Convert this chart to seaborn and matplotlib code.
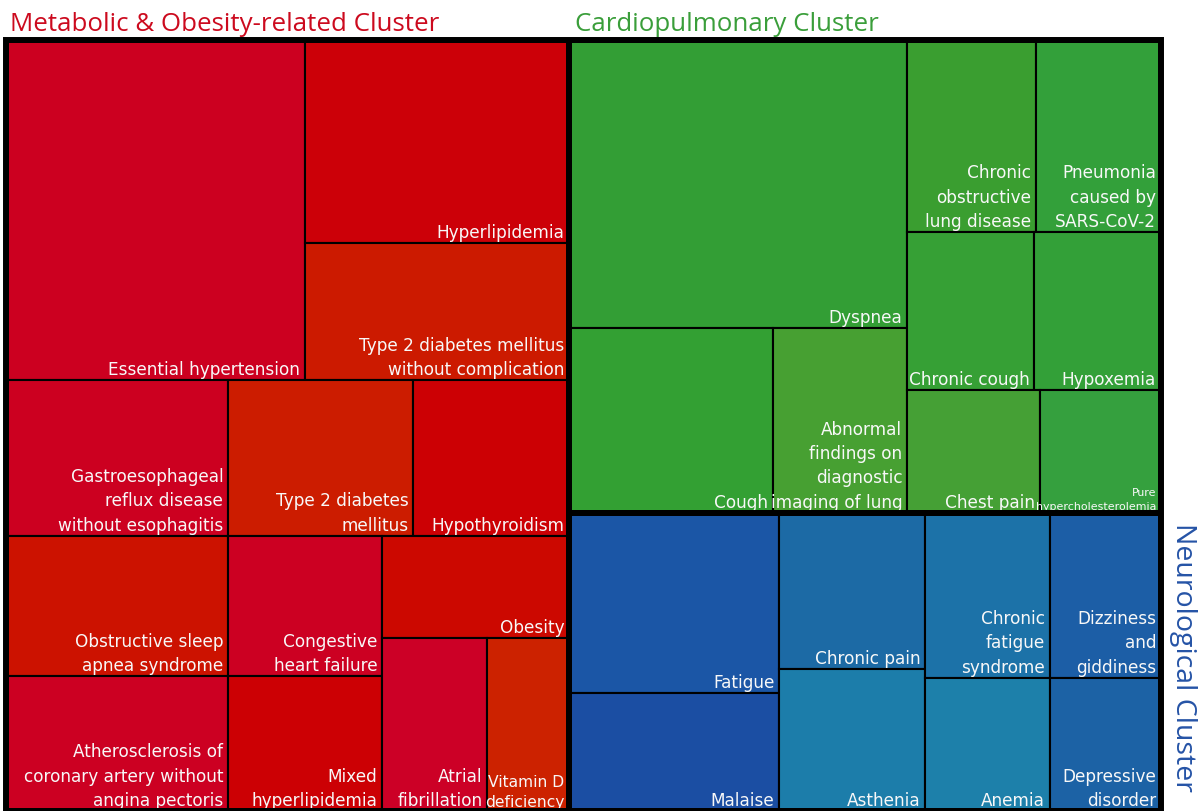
import matplotlib
matplotlib.use("Agg")
import matplotlib.pyplot as plt
from matplotlib.patches import Rectangle
import seaborn as sns

# cluster names / colours
clusters = ["Metabolic & Obesity-related Cluster", "Cardiopulmonary Cluster", "Neurological Cluster"]
cluster_colors = ["#cc0a1e", "#3a9e3a", "#2553a6"]

# Metabolic & Obesity-related
metabolic_labels = ["Essential hypertension", "Hyperlipidemia",
                    "Type 2 diabetes mellitus\nwithout complication",
                    "Gastroesophageal\nreflux disease\nwithout esophagitis",
                    "Obstructive sleep\napnea syndrome",
                    "Atherosclerosis of\ncoronary artery without\nangina pectoris",
                    "Type 2 diabetes\nmellitus", "Hypothyroidism",
                    "Congestive\nheart failure", "Mixed\nhyperlipidemia",
                    "Obesity", "Atrial\nfibrillation", "Vitamin D\ndeficiency"]
metabolic_values = [1017, 538, 363, 346, 312, 301, 287, 242, 216, 208, 191, 182, 142]
metabolic_colors = ["#cc0020", "#cc0008", "#cc1a00", "#cc0020", "#cc1200", "#cc0022",
                    "#cc1c00", "#cc0004", "#cc0022", "#cc0004", "#cc0800", "#cc0026", "#cc2200"]

# Cardiopulmonary
cardio_labels = ["Dyspnea", "Cough", "Abnormal\nfindings on\ndiagnostic\nimaging of lung",
                 "Chronic\nobstructive\nlung disease", "Pneumonia\ncaused by\nSARS-CoV-2",
                 "Chronic cough", "Hypoxemia", "Chest pain", "Pure\nhypercholesterolemia"]
cardio_values = [973, 374, 248, 247, 240, 201, 200, 162, 148]
cardio_colors = ["#339e35", "#33a033", "#47a032", "#3a9e30", "#33a03a",
                 "#36a035", "#33a038", "#45a035", "#35a03e"]

# Neurological
neuro_labels = ["Fatigue", "Malaise", "Chronic pain", "Asthenia",
                "Chronic\nfatigue\nsyndrome", "Dizziness\nand\ngiddiness",
                "Anemia", "Depressive\ndisorder"]
neuro_values = [378, 248, 228, 207, 206, 183, 166, 148]
neuro_colors = ["#1b56a6", "#1b4ea3", "#1c6aa5", "#1c7daa",
                "#1c72a8", "#1c5ea6", "#1d80aa", "#1c62a5"]

groups = [
    (metabolic_labels, metabolic_values, metabolic_colors),
    (cardio_labels, cardio_values, cardio_colors),
    (neuro_labels, neuro_values, neuro_colors),
]


# pivot-by-size treemap layout (ordered, largest item is the pivot)
def pivot_layout(values, x, y, w, h):
    n = len(values)
    if n == 0:
        return []
    if n == 1:
        return [(x, y, w, h)]
    total = sum(values)
    p = values[0]
    rest = values[1:]
    best_k, best_r = 0, None
    for k in range(len(rest) + 1):
        s = p + sum(rest[:k])
        if w >= h:
            a, b = w * s / total, h * p / s
        else:
            a, b = w * p / s, h * s / total
        r = max(a / b, b / a)
        if best_r is None or r < best_r:
            best_k, best_r = k, r
    k = best_k
    s = p + sum(rest[:k])
    if w >= h:
        cw = w * s / total
        ph = h * p / s
        rects = [(x, y, cw, ph)]
        rects += pivot_layout(rest[:k], x, y + ph, cw, h - ph)
        rects += pivot_layout(rest[k:], x + cw, y, w - cw, h)
    else:
        bh = h * s / total
        pw = w * p / s
        rects = [(x, y, pw, bh)]
        rects += pivot_layout(rest[:k], x + pw, y, w - pw, bh)
        rects += pivot_layout(rest[k:], x, y + bh, w, h - bh)
    return rects


sns.set_theme(style="white")
plt.rcParams['font.family'] = ['DejaVu Sans']

W, H = 1199, 811
fig = plt.figure(figsize=(W / 100, H / 100), dpi=100)
# treemap area in pixels
left, top, right, bottom = 5.5, 40, 1161, 811
ax = fig.add_axes([left / W, 1 - bottom / H, (right - left) / W, (bottom - top) / H])
aw, ah = right - left, bottom - top
ax.set_xlim(0, aw)
ax.set_ylim(ah, 0)
ax.set_axis_off()

cluster_rects = pivot_layout([sum(g[1]) for g in groups], 0, 0, aw, ah)

pad = 5
texts = []
for (labels, values, colors), (cx, cy, cw, ch) in zip(groups, cluster_rects):
    order = sorted(range(len(values)), key=lambda i: -values[i])
    rects = pivot_layout([values[i] for i in order], cx, cy, cw, ch)
    for i, (x, y, w, h) in zip(order, rects):
        ax.add_patch(Rectangle((x, y), w, h, facecolor=colors[i], edgecolor='black',
                               linewidth=1.5, zorder=1))
        t = ax.text(x + w - pad, y + h - 1, labels[i], ha='right', va='bottom',
                    multialignment='right', color='#f8f8f8', fontsize=12.2,
                    linespacing=1.45, zorder=2)
        texts.append((t, w))
    ax.add_patch(Rectangle((cx, cy), cw, ch, fill=False, edgecolor='black',
                           linewidth=4.3, zorder=3))

ax.add_patch(Rectangle((0, 0), aw, ah, fill=False, edgecolor='black',
                       linewidth=4.3, zorder=3, clip_on=False))

# shrink labels that do not fit in their cell
fig.canvas.draw()
renderer = fig.canvas.get_renderer()
for t, w in texts:
    tw = t.get_window_extent(renderer).width
    if tw > w - 2:
        t.set_fontsize(12.2 * (w - 3) / tw)

title_font = ['Open Sans', 'DejaVu Sans']
fig.text(10 / W, 1 - 31 / H, clusters[0], color=cluster_colors[0], fontsize=18.6,
         family=title_font, ha='left', va='baseline')
fig.text(575 / W, 1 - 31 / H, clusters[1], color=cluster_colors[1], fontsize=18.6,
         family=title_font, ha='left', va='baseline')
fig.text(1183 / W, 1 - 523 / H, clusters[2], color=cluster_colors[2], fontsize=20.5,
         family=title_font, rotation=270, ha='center', va='top')

fig.savefig("out.png", dpi=100)
